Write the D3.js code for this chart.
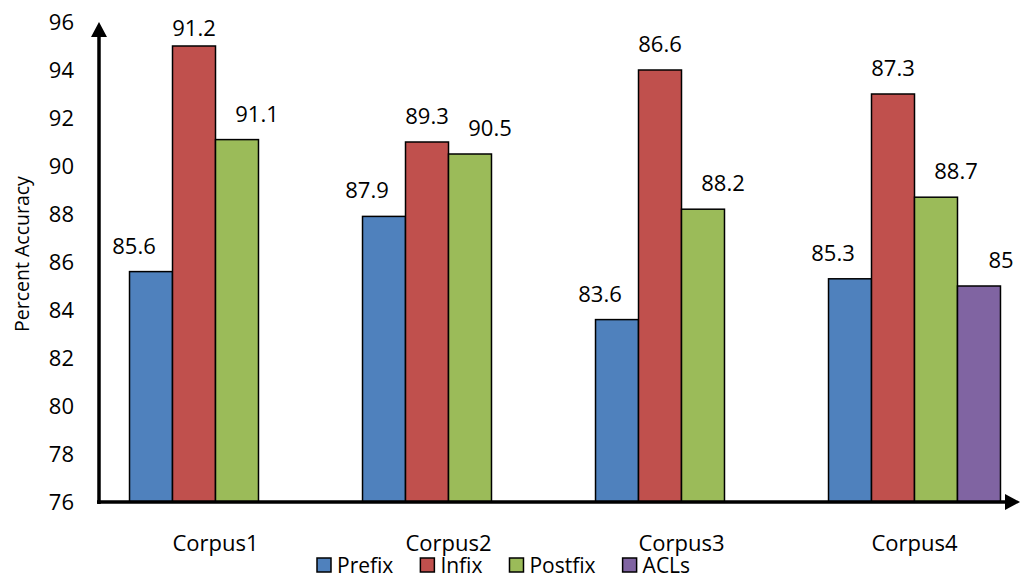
<!DOCTYPE html>
<html>
<head>
<meta charset="utf-8">
<script src="https://cdn.jsdelivr.net/npm/d3@7"></script>
<style>
  body { margin: 0; background: #fff; }
  text { font-family: "Open Sans", sans-serif; fill: #000; }
</style>
</head>
<body>
<div id="chart"></div>
<script>
var categories = ["Corpus1", "Corpus2", "Corpus3", "Corpus4"];
var series = ["Prefix", "Infix", "Postfix", "ACLs"];
var yTicks = [76, 78, 80, 82, 84, 86, 88, 90, 92, 94, 96];

// bar heights as drawn
var prefixValues = [85.6, 87.9, 83.6, 85.3];
var infixValues = [95, 91, 94, 93];
var postfixValues = [91.1, 90.5, 88.2, 88.7];
var aclsValues = [null, null, null, 85];

// numbers printed above the bars
var prefixLabels = ["85.6", "87.9", "83.6", "85.3"];
var infixLabels = ["91.2", "89.3", "86.6", "87.3"];
var postfixLabels = ["91.1", "90.5", "88.2", "88.7"];
var aclsLabels = [null, null, null, "85"];

var colors = ["#4F81BD", "#C0504D", "#9BBB59", "#8064A2"];
// horizontal nudge of value labels per series
var labelShift = [-17, 0, 20, 22];

var svgWidth = 1020;
var svgHeight = 577;
var margin = { top: 22, right: 0, bottom: 75, left: 99 };
var bottomY = svgHeight - margin.bottom;

var values = [prefixValues, infixValues, postfixValues, aclsValues];
var labels = [prefixLabels, infixLabels, postfixLabels, aclsLabels];

var rows = [];
categories.forEach(function(c, i) {
  series.forEach(function(s, j) {
    if (values[j][i] != null) {
      rows.push({ cat: c, series: s, idx: j, value: values[j][i], label: labels[j][i] });
    }
  });
});

var svg = d3.select("#chart")
  .append("svg")
  .attr("width", svgWidth)
  .attr("height", svgHeight);

var yScale = d3.scaleLinear()
  .domain([76, 96])
  .range([bottomY, margin.top]);

var x0 = d3.scaleBand()
  .domain(categories)
  .range([margin.left, margin.left + 932]);

var x1 = d3.scaleBand()
  .domain(series)
  .range([0, x0.bandwidth()])
  .paddingOuter(0.71);

// Bars
svg.selectAll("rect.bar")
  .data(rows)
  .enter()
  .append("rect")
  .attr("class", "bar")
  .attr("x", d => x0(d.cat) + x1(d.series))
  .attr("y", d => yScale(d.value))
  .attr("width", x1.bandwidth())
  .attr("height", d => bottomY - yScale(d.value))
  .attr("fill", d => colors[d.idx])
  .attr("stroke", "#000")
  .attr("stroke-width", 1.5);

// Value labels
svg.selectAll("text.val")
  .data(rows)
  .enter()
  .append("text")
  .attr("class", "val")
  .attr("x", d => x0(d.cat) + x1(d.series) + x1.bandwidth() / 2 + labelShift[d.idx])
  .attr("y", d => Math.max(yScale(d.value) - 18, 36))
  .attr("text-anchor", "middle")
  .style("font-size", "22px")
  .text(d => d.label);

// Y axis ticks
var leftAxis = d3.axisLeft(yScale)
  .tickValues(yTicks)
  .tickSize(0)
  .tickPadding(25);

var yAxisG = svg.append("g")
  .attr("transform", `translate(${margin.left}, 0)`)
  .call(leftAxis);
yAxisG.select(".domain").remove();
yAxisG.selectAll("text")
  .style("font-size", "22px")
  .style("font-family", "'Open Sans', sans-serif")
  .attr("fill", "#000");

// Axis lines with arrows
svg.append("line")
  .attr("x1", margin.left).attr("y1", bottomY + 2)
  .attr("x2", margin.left).attr("y2", margin.top + 12)
  .attr("stroke", "#000").attr("stroke-width", 3.5);
svg.append("path")
  .attr("d", `M${margin.left - 8},${margin.top + 15} L${margin.left},${margin.top} L${margin.left + 8},${margin.top + 15} Z`)
  .attr("fill", "#000");

svg.append("line")
  .attr("x1", margin.left - 2).attr("y1", bottomY)
  .attr("x2", 1008).attr("y2", bottomY)
  .attr("stroke", "#000").attr("stroke-width", 3.5);
svg.append("path")
  .attr("d", `M1005,${bottomY - 8} L1020,${bottomY} L1005,${bottomY + 8} Z`)
  .attr("fill", "#000");

// Category labels
svg.selectAll("text.cat")
  .data(categories)
  .enter()
  .append("text")
  .attr("class", "cat")
  .attr("x", d => x0(d) + x0.bandwidth() / 2)
  .attr("y", 551)
  .attr("text-anchor", "middle")
  .style("font-size", "22px")
  .text(d => d);

// Axis title
svg.append("text")
  .attr("transform", "rotate(-90)")
  .attr("x", -254)
  .attr("y", 29)
  .attr("text-anchor", "middle")
  .style("font-size", "19.5px")
  .text("Percent Accuracy");

// Legend
var legend = svg.append("g");
var lx = 317;
series.forEach(function(s, i) {
  legend.append("rect")
    .attr("x", lx).attr("y", 558)
    .attr("width", 14).attr("height", 14)
    .attr("fill", colors[i])
    .attr("stroke", "#000")
    .attr("stroke-width", 1.5);
  var t = legend.append("text")
    .attr("x", lx + 20)
    .attr("y", 573)
    .style("font-size", "21px")
    .text(s);
  lx += 20 + t.node().getComputedTextLength() + 27;
});
</script>
</body>
</html>
